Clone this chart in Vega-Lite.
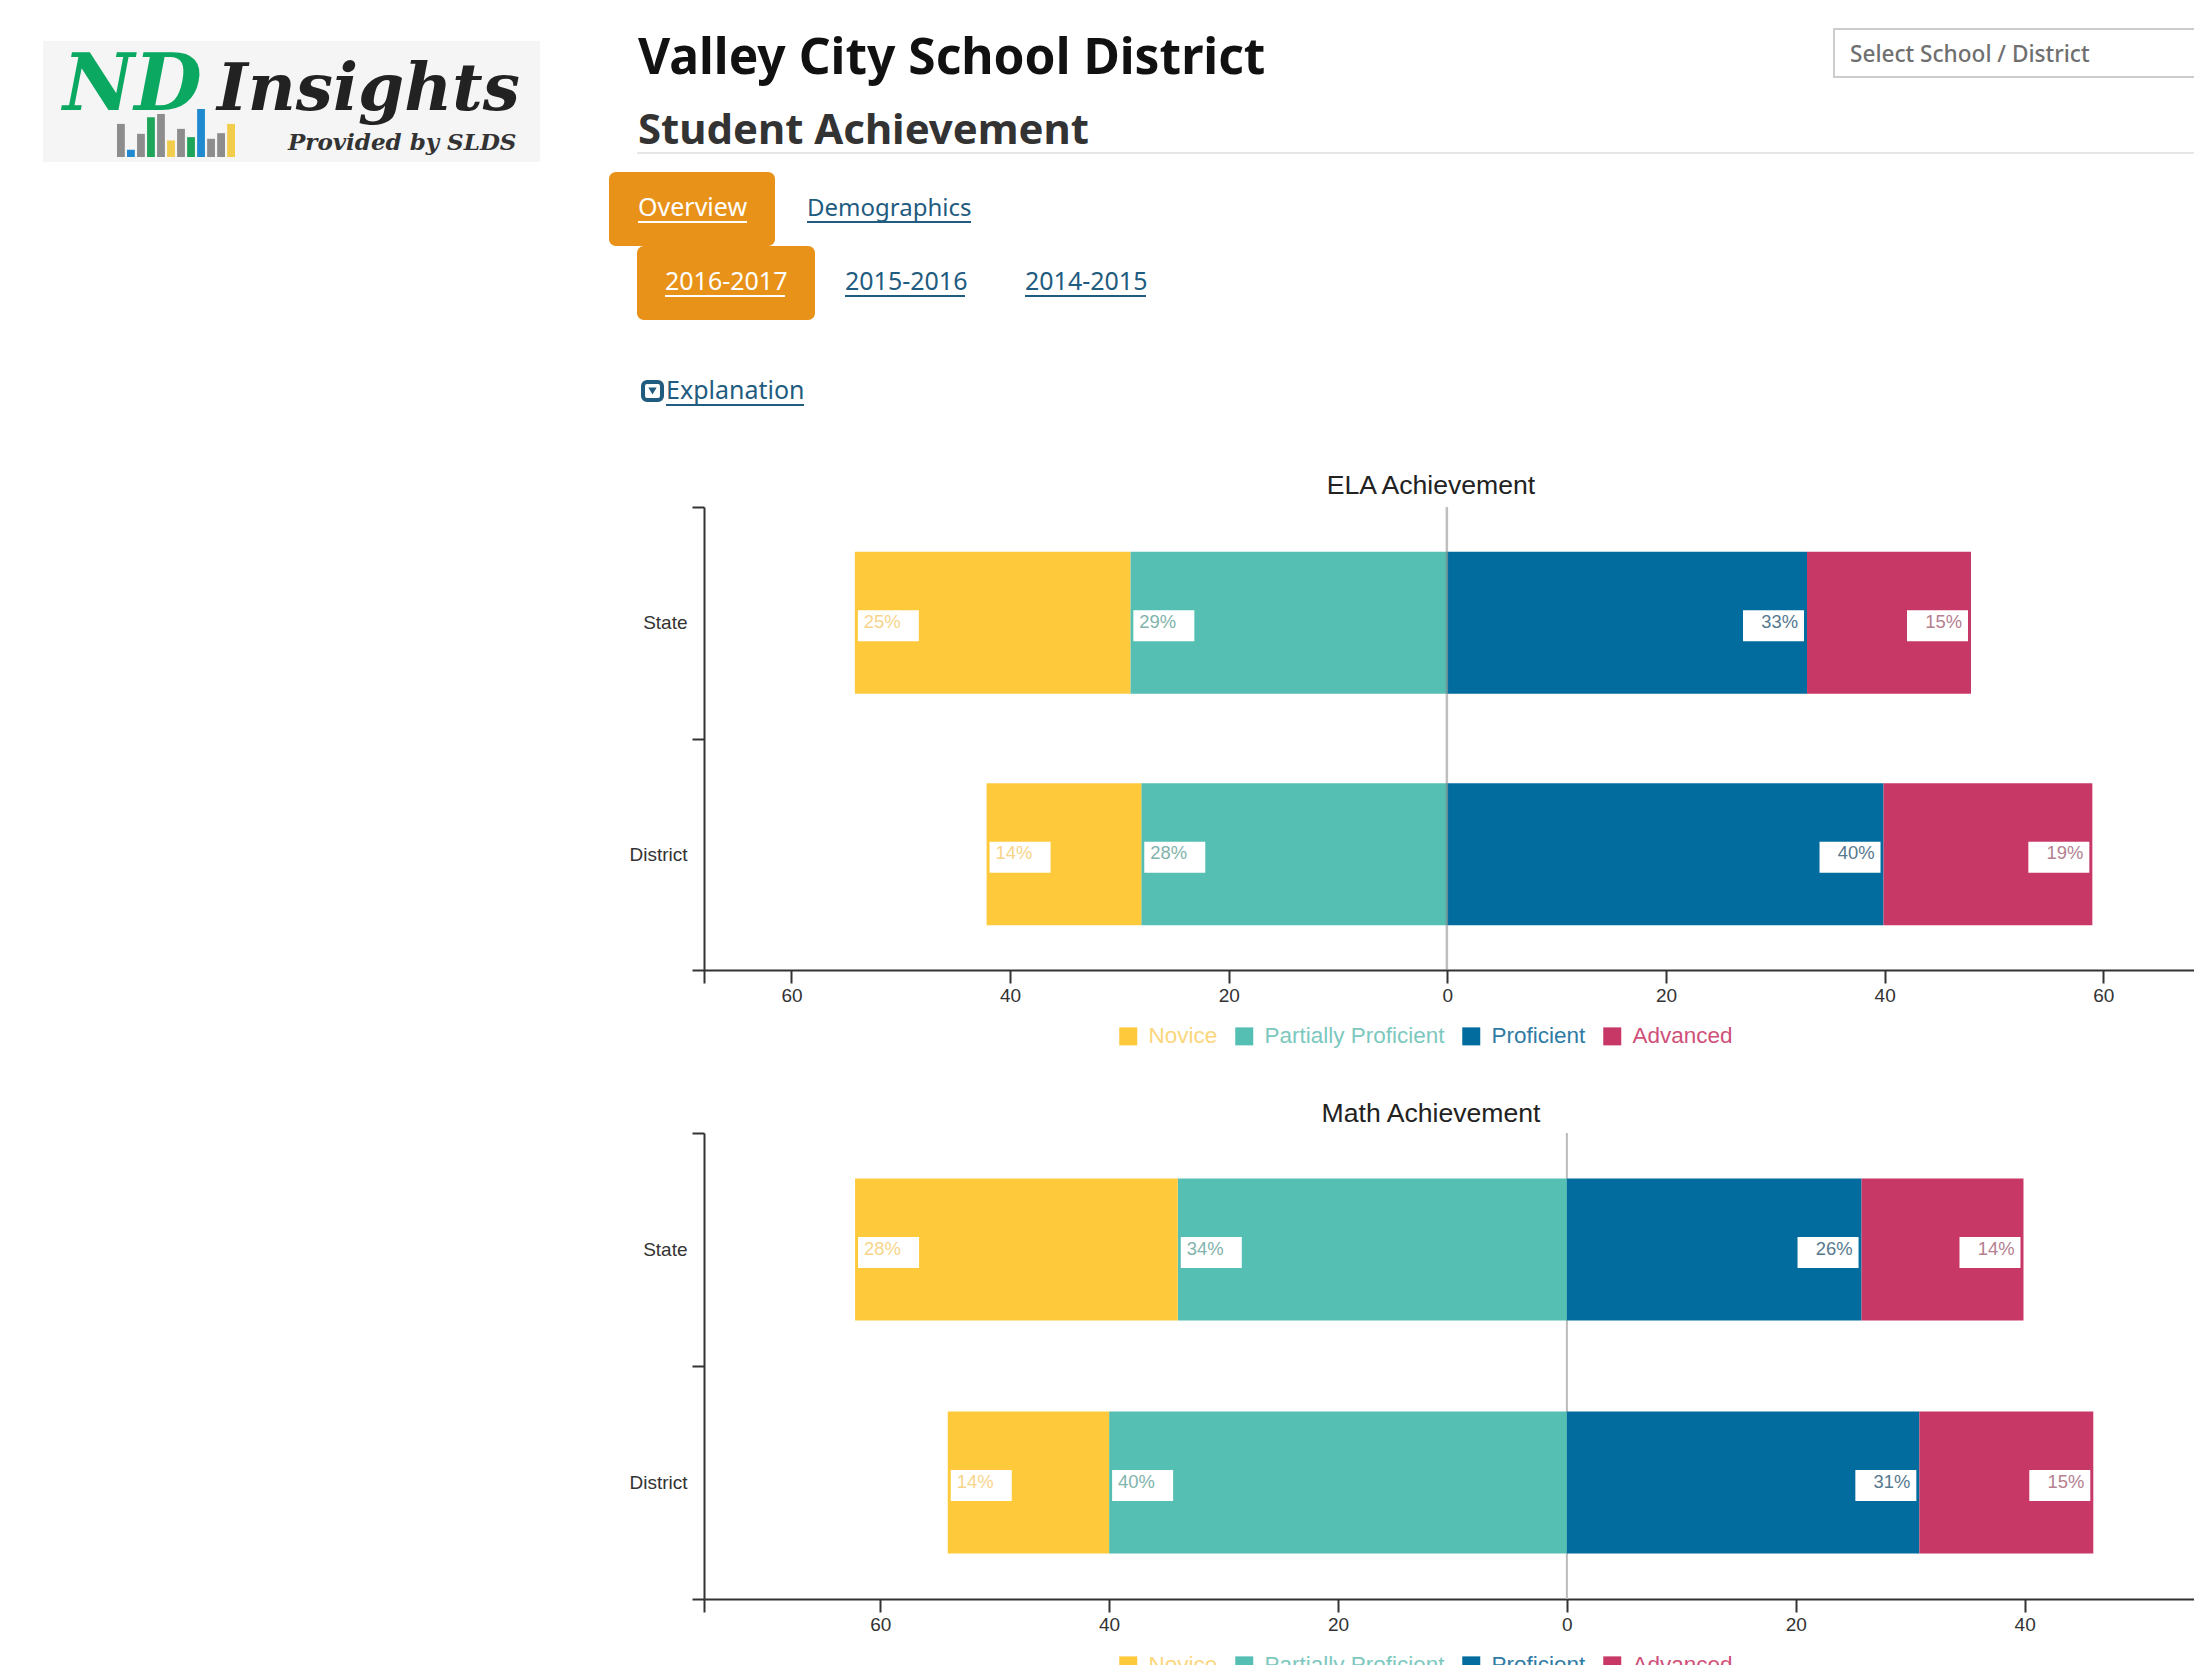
{"$schema":"https://vega.github.io/schema/vega-lite/v6.json","width":2194,"height":1665,"autosize":{"type":"none"},"padding":0,"background":"#ffffff","config":{"view":{"stroke":null},"font":"Liberation Sans"},
"resolve":{"scale":{"x":"independent","y":"independent","color":"independent"},"axis":{"x":"independent","y":"independent"},"legend":{"color":"independent"}},
"layer":[
{"data":{"values":[{"s":"logo panel"}]},"mark":{"type":"rect","fill":"#f5f5f5"},"encoding":{"x":{"datum":0,"scale":{"domain":[0,1],"range":[43,540]},"axis":null},"x2":{"datum":1},"y":{"datum":0,"scale":{"domain":[0,1],"range":[41,162]},"axis":null},"y2":{"datum":1}}},
{"data":{"values":[{"b":"a","h":100,"k":"gray"},{"b":"b","h":22,"k":"blue"},{"b":"c","h":70,"k":"gray"},{"b":"d","h":120,"k":"green"},{"b":"e","h":130,"k":"gray"},{"b":"f","h":50,"k":"yellow"},{"b":"g","h":85,"k":"gray"},{"b":"h","h":60,"k":"green"},{"b":"i","h":145,"k":"blue"},{"b":"j","h":55,"k":"gray"},{"b":"k","h":72,"k":"gray"},{"b":"l","h":100,"k":"yellow"}]},"mark":{"type":"bar"},"encoding":{"x":{"field":"b","type":"nominal","scale":{"type":"band","range":[116,236],"paddingInner":0.22,"paddingOuter":0.1},"axis":null},"y":{"field":"h","type":"quantitative","scale":{"domain":[0,145],"range":[157,109]},"axis":null},"color":{"field":"k","type":"nominal","scale":{"domain":["gray","blue","green","yellow"],"range":["#8d8d8d","#1f8ad0","#1fa55a","#f2cc4b"]},"legend":null}}},
{"data":{"values":[{"t":"ND"}]},"mark":{"type":"text","align":"left","baseline":"alphabetic","font":"DejaVu Serif","fontWeight":"bold","fontStyle":"italic","fontSize":78,"fill":"#0aa860"},"encoding":{"text":{"field":"t"},"x":{"datum":0,"scale":{"domain":[0,1],"range":[63,64]},"axis":null},"y":{"datum":0,"scale":{"domain":[0,1],"range":[110,111]},"axis":null}}},
{"data":{"values":[{"t":"Insights"}]},"mark":{"type":"text","align":"left","baseline":"alphabetic","font":"DejaVu Serif","fontWeight":"bold","fontStyle":"italic","fontSize":66,"fill":"#222222"},"encoding":{"text":{"field":"t"},"x":{"datum":0,"scale":{"domain":[0,1],"range":[217,218]},"axis":null},"y":{"datum":0,"scale":{"domain":[0,1],"range":[110,111]},"axis":null}}},
{"data":{"values":[{"t":"Provided by SLDS"}]},"mark":{"type":"text","align":"left","baseline":"alphabetic","font":"DejaVu Serif","fontWeight":"bold","fontStyle":"italic","fontSize":23,"fill":"#333333"},"encoding":{"text":{"field":"t"},"x":{"datum":0,"scale":{"domain":[0,1],"range":[288,289]},"axis":null},"y":{"datum":0,"scale":{"domain":[0,1],"range":[150,151]},"axis":null}}},
{"data":{"values":[{"t":"Valley City School District"}]},"mark":{"type":"text","align":"left","baseline":"alphabetic","font":"Noto Sans","fontWeight":"bold","fontSize":49.7,"fill":"#111111"},"encoding":{"text":{"field":"t"},"x":{"datum":0,"scale":{"domain":[0,1],"range":[638,639]},"axis":null},"y":{"datum":0,"scale":{"domain":[0,1],"range":[74,75]},"axis":null}}},
{"data":{"values":[{"t":"Student Achievement"}]},"mark":{"type":"text","align":"left","baseline":"alphabetic","font":"Noto Sans","fontWeight":"bold","fontSize":41.9,"fill":"#333333"},"encoding":{"text":{"field":"t"},"x":{"datum":0,"scale":{"domain":[0,1],"range":[638,639]},"axis":null},"y":{"datum":0,"scale":{"domain":[0,1],"range":[144,145]},"axis":null}}},
{"data":{"values":[{"s":"header line"}]},"mark":{"type":"rule","stroke":"#e6e6e6","strokeWidth":2},"encoding":{"x":{"datum":0,"scale":{"domain":[0,1],"range":[637,2194]},"axis":null},"x2":{"datum":1},"y":{"datum":0,"scale":{"domain":[0,1],"range":[153,154]},"axis":null}}},
{"data":{"values":[{"s":"select box"}]},"mark":{"type":"rect","fill":"#ffffff","stroke":"#cccccc","strokeWidth":2},"encoding":{"x":{"datum":0,"scale":{"domain":[0,1],"range":[1834,2210]},"axis":null},"x2":{"datum":1},"y":{"datum":0,"scale":{"domain":[0,1],"range":[29,77]},"axis":null},"y2":{"datum":1}}},
{"data":{"values":[{"t":"Select School / District"}]},"mark":{"type":"text","align":"left","baseline":"alphabetic","font":"Noto Sans","fontWeight":500,"fontSize":22.6,"fill":"#6f6f6f"},"encoding":{"text":{"field":"t"},"x":{"datum":0,"scale":{"domain":[0,1],"range":[1850,1851]},"axis":null},"y":{"datum":0,"scale":{"domain":[0,1],"range":[62,63]},"axis":null}}},
{"data":{"values":[{"s":"Overview tab"}]},"mark":{"type":"rect","fill":"#e8921a","cornerRadius":7},"encoding":{"x":{"datum":0,"scale":{"domain":[0,1],"range":[609,775]},"axis":null},"x2":{"datum":1},"y":{"datum":0,"scale":{"domain":[0,1],"range":[172,246]},"axis":null},"y2":{"datum":1}}},
{"data":{"values":[{"s":"Year tab"}]},"mark":{"type":"rect","fill":"#e8921a","cornerRadius":7},"encoding":{"x":{"datum":0,"scale":{"domain":[0,1],"range":[637,815]},"axis":null},"x2":{"datum":1},"y":{"datum":0,"scale":{"domain":[0,1],"range":[246,320]},"axis":null},"y2":{"datum":1}}},
{"data":{"values":[{"t":"Overview"}]},"encoding":{"x":{"datum":0,"scale":{"domain":[0,1],"range":[638,747]},"axis":null},"y":{"datum":0,"scale":{"domain":[0,1],"range":[216,222]},"axis":null}},"layer":[{"mark":{"type":"text","align":"left","baseline":"alphabetic","font":"Noto Sans","fontSize":25,"fill":"#ffffff"},"encoding":{"text":{"field":"t"}}},{"mark":{"type":"rule","stroke":"#ffffff","strokeWidth":2},"encoding":{"x2":{"datum":1},"y":{"datum":1}}}]},
{"data":{"values":[{"t":"Demographics"}]},"encoding":{"x":{"datum":0,"scale":{"domain":[0,1],"range":[807,971]},"axis":null},"y":{"datum":0,"scale":{"domain":[0,1],"range":[216,222]},"axis":null}},"layer":[{"mark":{"type":"text","align":"left","baseline":"alphabetic","font":"Noto Sans","fontSize":24,"fill":"#1f5c80"},"encoding":{"text":{"field":"t"}}},{"mark":{"type":"rule","stroke":"#1f5c80","strokeWidth":2},"encoding":{"x2":{"datum":1},"y":{"datum":1}}}]},
{"data":{"values":[{"t":"2016-2017"}]},"encoding":{"x":{"datum":0,"scale":{"domain":[0,1],"range":[665,785]},"axis":null},"y":{"datum":0,"scale":{"domain":[0,1],"range":[290,296]},"axis":null}},"layer":[{"mark":{"type":"text","align":"left","baseline":"alphabetic","font":"Noto Sans","fontSize":25,"fill":"#ffffff"},"encoding":{"text":{"field":"t"}}},{"mark":{"type":"rule","stroke":"#ffffff","strokeWidth":2},"encoding":{"x2":{"datum":1},"y":{"datum":1}}}]},
{"data":{"values":[{"t":"2015-2016"}]},"encoding":{"x":{"datum":0,"scale":{"domain":[0,1],"range":[845,965]},"axis":null},"y":{"datum":0,"scale":{"domain":[0,1],"range":[290,296]},"axis":null}},"layer":[{"mark":{"type":"text","align":"left","baseline":"alphabetic","font":"Noto Sans","fontSize":25,"fill":"#1f5c80"},"encoding":{"text":{"field":"t"}}},{"mark":{"type":"rule","stroke":"#1f5c80","strokeWidth":2},"encoding":{"x2":{"datum":1},"y":{"datum":1}}}]},
{"data":{"values":[{"t":"2014-2015"}]},"encoding":{"x":{"datum":0,"scale":{"domain":[0,1],"range":[1025,1146]},"axis":null},"y":{"datum":0,"scale":{"domain":[0,1],"range":[290,296]},"axis":null}},"layer":[{"mark":{"type":"text","align":"left","baseline":"alphabetic","font":"Noto Sans","fontSize":25,"fill":"#1f5c80"},"encoding":{"text":{"field":"t"}}},{"mark":{"type":"rule","stroke":"#1f5c80","strokeWidth":2},"encoding":{"x2":{"datum":1},"y":{"datum":1}}}]},
{"data":{"values":[{"t":"Explanation"}]},"encoding":{"x":{"datum":0,"scale":{"domain":[0,1],"range":[666,804]},"axis":null},"y":{"datum":0,"scale":{"domain":[0,1],"range":[399,405]},"axis":null}},"layer":[{"mark":{"type":"text","align":"left","baseline":"alphabetic","font":"Noto Sans","fontSize":25,"fill":"#1f5c80"},"encoding":{"text":{"field":"t"}}},{"mark":{"type":"rule","stroke":"#1f5c80","strokeWidth":2},"encoding":{"x2":{"datum":1},"y":{"datum":1}}}]},
{"data":{"values":[{"s":"explanation icon"}]},"encoding":{"x":{"datum":0,"scale":{"domain":[0,1],"range":[643,662]},"axis":null},"y":{"datum":0,"scale":{"domain":[0,1],"range":[382,400]},"axis":null}},"layer":[{"mark":{"type":"rect","fill":"#ffffff","stroke":"#1f5c80","strokeWidth":4,"cornerRadius":4},"encoding":{"x2":{"datum":1},"y2":{"datum":1}}},{"mark":{"type":"point","shape":"triangle-down","filled":true,"fill":"#1f5c80","size":70,"opacity":1},"encoding":{"x":{"datum":0.5},"y":{"datum":0.5}}}]},
{"data":{"values":[{"t":"ELA Achievement"},{"t":"Math Achievement"}]},"mark":{"type":"text","align":"center","baseline":"alphabetic","font":"Liberation Sans","fontSize":26.6,"fill":"#222222"},"encoding":{"text":{"field":"t"},"x":{"field":"t","type":"nominal","scale":{"type":"point","domain":["ELA Achievement","Math Achievement"],"range":[1431,1431],"padding":0},"axis":null},"y":{"field":"t","type":"nominal","scale":{"type":"point","domain":["ELA Achievement","Math Achievement"],"range":[494,1122],"padding":0},"axis":null}}},
{"data":{"values":[{"s":"Math zero line"}]},"mark":{"type":"rule","stroke":"#bbbbbb","strokeWidth":2},"encoding":{"x":{"datum":0,"scale":{"domain":[-75.4,54.8],"range":[704,2194]},"axis":null},"y":{"datum":0,"scale":{"domain":[0,1],"range":[1133,1599]},"axis":null},"y2":{"datum":1}}},
{"data":{"values":[{"group":"State","level":"Partially Proficient","pct":-29,"label":"29%"},{"group":"State","level":"Novice","pct":-25.2,"label":"25%"},{"group":"State","level":"Proficient","pct":32.9,"label":"33%"},{"group":"State","level":"Advanced","pct":15,"label":"15%"},{"group":"District","level":"Partially Proficient","pct":-28,"label":"28%"},{"group":"District","level":"Novice","pct":-14.15,"label":"14%"},{"group":"District","level":"Proficient","pct":39.9,"label":"40%"},{"group":"District","level":"Advanced","pct":19.1,"label":"19%"}]},
"transform":[{"stack":"pct","groupby":["group"],"as":["x0","x1"],"offset":"zero"}],
"encoding":{"y":{"field":"group","type":"nominal","sort":["State","District"],"title":null,"scale":{"type":"band","domain":["State","District"],"range":[507,970],"padding":0},"axis":{"orient":"left","offset":-704,"tickBand":"extent","tickSize":12,"tickWidth":2,"tickColor":"#333333","domainColor":"#333333","domainWidth":2,"labelFont":"Liberation Sans","labelFontSize":19,"labelColor":"#333333","labelPadding":5,"grid":false}},
"x":{"field":"x1","type":"quantitative","scale":{"domain":[-68,68.3],"range":[704,2194]},"title":null,"axis":{"orient":"bottom","offset":-695,"values":[-68,-60,-40,-20,0,20,40,60],"labelExpr":"datum.value==-68?'':abs(datum.value)","tickSize":13,"tickWidth":2,"tickColor":"#333333","domainColor":"#333333","domainWidth":2,"labelFont":"Liberation Sans","labelFontSize":19,"labelColor":"#333333","labelPadding":3,"grid":false}}},
"layer":[
{"mark":{"type":"bar","size":142},"encoding":{"x":{"field":"x0","type":"quantitative"},"x2":{"field":"x1"},"color":{"field":"level","type":"nominal","scale":{"domain":["Novice","Partially Proficient","Proficient","Advanced"],"range":["#ffc93c","#56bfb4","#036c9f","#c73866"]},"legend":{"orient":"none","direction":"horizontal","title":null,"legendX":1117,"legendY":1025,"symbolType":"square","symbolSize":324,"symbolStrokeWidth":0,"symbolOpacity":1,"labelFont":"Liberation Sans","labelFontSize":22.5,"labelOffset":9,"labelLimit":400,"columnPadding":15,"columns":4,"encode":{"labels":{"update":{"fill":{"signal":"datum.label=='Novice'?'#fbd67c':datum.label=='Partially Proficient'?'#7cc8be':datum.label=='Proficient'?'#2f7ba5':'#cf5079'"}}}}}}}},
{"transform":[{"filter":"datum.pct<0"}],"mark":{"type":"bar","size":31,"fill":"#ffffff","xOffset":3,"x2Offset":64,"yOffset":3},"encoding":{"x2":{"field":"x1"}}},
{"transform":[{"filter":"datum.pct>0"}],"mark":{"type":"bar","size":31,"fill":"#ffffff","xOffset":-64,"x2Offset":-3,"yOffset":3},"encoding":{"x2":{"field":"x1"}}},
{"transform":[{"filter":"datum.pct<0"}],"mark":{"type":"text","align":"left","baseline":"middle","dx":9,"dy":-1,"font":"Liberation Sans","fontSize":18.4,"fill":{"expr":"datum.level=='Novice'?'#f7d48a':'#7fb3ac'"}},"encoding":{"text":{"field":"label"}}},
{"transform":[{"filter":"datum.pct>0"}],"mark":{"type":"text","align":"right","baseline":"middle","dx":-9,"dy":-1,"font":"Liberation Sans","fontSize":18.4,"fill":{"expr":"datum.level=='Proficient'?'#56798e':'#b5808f'"}},"encoding":{"text":{"field":"label"}}}
]},
{"data":{"values":[{"s":"ELA zero line"}]},"mark":{"type":"rule","stroke":"#808080","strokeWidth":2.5,"opacity":0.5,"xOffset":-0.5},"encoding":{"x":{"datum":0,"scale":{"domain":[-68,68.3],"range":[704,2194]},"axis":null},"y":{"datum":0,"scale":{"domain":[0,1],"range":[507,970]},"axis":null},"y2":{"datum":1}}},
{"data":{"values":[{"group":"State","level":"Partially Proficient","pct":-34,"label":"34%"},{"group":"State","level":"Novice","pct":-28.2,"label":"28%"},{"group":"State","level":"Proficient","pct":25.75,"label":"26%"},{"group":"State","level":"Advanced","pct":14.15,"label":"14%"},{"group":"District","level":"Partially Proficient","pct":-40,"label":"40%"},{"group":"District","level":"Novice","pct":-14.1,"label":"14%"},{"group":"District","level":"Proficient","pct":30.8,"label":"31%"},{"group":"District","level":"Advanced","pct":15.2,"label":"15%"}]},
"transform":[{"stack":"pct","groupby":["group"],"as":["x0","x1"],"offset":"zero"}],
"encoding":{"y":{"field":"group","type":"nominal","sort":["State","District"],"title":null,"scale":{"type":"band","domain":["State","District"],"range":[1133,1599],"padding":0},"axis":{"orient":"left","offset":-704,"tickBand":"extent","tickSize":12,"tickWidth":2,"tickColor":"#333333","domainColor":"#333333","domainWidth":2,"labelFont":"Liberation Sans","labelFontSize":19,"labelColor":"#333333","labelPadding":5,"grid":false}},
"x":{"field":"x1","type":"quantitative","scale":{"domain":[-75.4,54.8],"range":[704,2194]},"title":null,"axis":{"orient":"bottom","offset":-66,"values":[-75.4,-60,-40,-20,0,20,40],"labelExpr":"datum.value==-75.4?'':abs(datum.value)","tickSize":13,"tickWidth":2,"tickColor":"#333333","domainColor":"#333333","domainWidth":2,"labelFont":"Liberation Sans","labelFontSize":19,"labelColor":"#333333","labelPadding":3,"grid":false}}},
"layer":[
{"mark":{"type":"bar","size":142},"encoding":{"x":{"field":"x0","type":"quantitative"},"x2":{"field":"x1"},"color":{"field":"level","type":"nominal","scale":{"domain":["Novice","Partially Proficient","Proficient","Advanced"],"range":["#ffc93c","#56bfb4","#036c9f","#c73866"]},"legend":{"orient":"none","direction":"horizontal","title":null,"legendX":1117,"legendY":1654,"symbolType":"square","symbolSize":324,"symbolStrokeWidth":0,"symbolOpacity":1,"labelFont":"Liberation Sans","labelFontSize":22.5,"labelOffset":9,"labelLimit":400,"columnPadding":15,"columns":4,"encode":{"labels":{"update":{"fill":{"signal":"datum.label=='Novice'?'#fbd67c':datum.label=='Partially Proficient'?'#7cc8be':datum.label=='Proficient'?'#2f7ba5':'#cf5079'"}}}}}}}},
{"transform":[{"filter":"datum.pct<0"}],"mark":{"type":"bar","size":31,"fill":"#ffffff","xOffset":3,"x2Offset":64,"yOffset":3},"encoding":{"x2":{"field":"x1"}}},
{"transform":[{"filter":"datum.pct>0"}],"mark":{"type":"bar","size":31,"fill":"#ffffff","xOffset":-64,"x2Offset":-3,"yOffset":3},"encoding":{"x2":{"field":"x1"}}},
{"transform":[{"filter":"datum.pct<0"}],"mark":{"type":"text","align":"left","baseline":"middle","dx":9,"dy":-1,"font":"Liberation Sans","fontSize":18.4,"fill":{"expr":"datum.level=='Novice'?'#f7d48a':'#7fb3ac'"}},"encoding":{"text":{"field":"label"}}},
{"transform":[{"filter":"datum.pct>0"}],"mark":{"type":"text","align":"right","baseline":"middle","dx":-9,"dy":-1,"font":"Liberation Sans","fontSize":18.4,"fill":{"expr":"datum.level=='Proficient'?'#56798e':'#b5808f'"}},"encoding":{"text":{"field":"label"}}}
]}
]}
